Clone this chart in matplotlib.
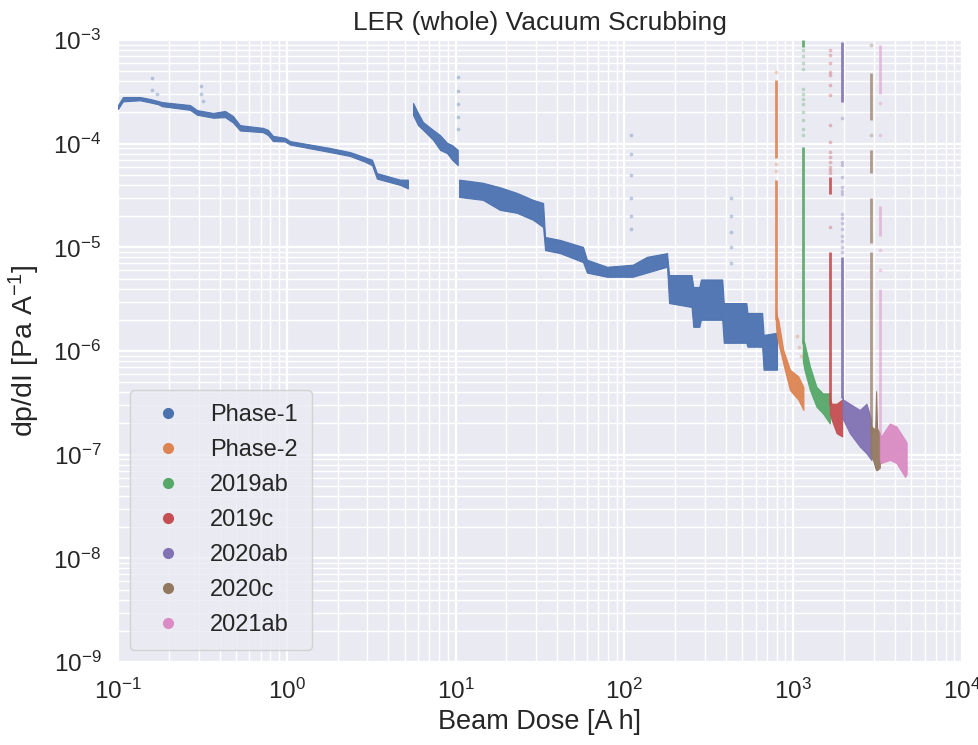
import numpy as np
import matplotlib
matplotlib.use("Agg")
import matplotlib.pyplot as plt
import seaborn as sns
from matplotlib.lines import Line2D

sns.set_theme(style="darkgrid")
plt.rcParams['font.family'] = ['Liberation Sans', 'DejaVu Sans']
plt.rcParams['mathtext.fontset'] = 'custom'
plt.rcParams['mathtext.rm'] = 'Liberation Sans'
plt.rcParams['mathtext.it'] = 'Liberation Sans:italic'
plt.rcParams['mathtext.bf'] = 'Liberation Sans:bold'

labels = ["Phase-1", "Phase-2", "2019ab", "2019c", "2020ab", "2020c", "2021ab"]

# ---- Phase-1 (three running periods), band upper/lower envelopes ----
p1a_x = [0.100, 0.107, 0.135, 0.155, 0.173, 0.182, 0.267, 0.294, 0.366, 0.431, 0.480,
         0.528, 0.723, 0.774, 0.828, 0.975, 1.045, 1.80, 2.37, 2.90, 3.20, 3.42, 4.69, 5.22]
p1a_hi = [2.36e-4, 2.82e-4, 2.82e-4, 2.70e-4, 2.58e-4, 2.52e-4, 2.36e-4, 2.11e-4, 1.98e-4,
          2.07e-4, 1.85e-4, 1.51e-4, 1.42e-4, 1.36e-4, 1.19e-4, 1.14e-4, 1.06e-4, 9.1e-5,
          8.3e-5, 7.4e-5, 7.0e-5, 5.2e-5, 4.5e-5, 4.5e-5]
p1a_lo = [2.16e-4, 2.56e-4, 2.62e-4, 2.50e-4, 2.40e-4, 2.30e-4, 2.12e-4, 1.90e-4, 1.78e-4,
          1.80e-4, 1.60e-4, 1.34e-4, 1.29e-4, 1.21e-4, 1.06e-4, 1.05e-4, 9.8e-5, 8.3e-5,
          7.6e-5, 6.7e-5, 6.2e-5, 4.6e-5, 4.0e-5, 3.7e-5]

p1b_x = [5.60, 5.99, 6.41, 7.35, 8.09, 8.90, 9.53, 10.3]
p1b_hi = [2.47e-4, 1.98e-4, 1.62e-4, 1.36e-4, 1.21e-4, 1.02e-4, 9.7e-5, 8.7e-5]
p1b_lo = [1.89e-4, 1.51e-4, 1.36e-4, 1.09e-4, 8.7e-5, 8.1e-5, 7.0e-5, 6.2e-5]

p1c_x = [10.5, 14.5, 18.3, 23.1, 28.8, 33.0, 33.9, 41.5, 56.9, 60.0, 78.9, 112, 136, 179,
         184, 250, 256, 278, 284, 380, 388, 528, 536, 655, 668, 802]
p1c_hi = [4.5e-5, 4.2e-5, 3.8e-5, 3.35e-5, 2.87e-5, 2.68e-5, 1.26e-5, 1.18e-5, 1.01e-5,
          7.6e-6, 6.5e-6, 6.8e-6, 8.1e-6, 8.8e-6, 5.4e-6, 5.4e-6, 4.15e-6, 4.15e-6, 4.9e-6,
          4.9e-6, 2.9e-6, 2.9e-6, 2.33e-6, 2.33e-6, 1.43e-6, 1.5e-6]
p1c_lo = [3.06e-5, 2.87e-5, 2.30e-5, 2.15e-5, 1.84e-5, 1.57e-5, 9.4e-6, 8.8e-6, 7.2e-6,
          5.7e-6, 5.2e-6, 5.2e-6, 5.7e-6, 6.5e-6, 2.9e-6, 2.66e-6, 1.71e-6, 1.71e-6, 2.0e-6,
          2.0e-6, 1.2e-6, 1.2e-6, 1.1e-6, 1.1e-6, 6.6e-7, 6.6e-7]

p1_pts_x = [0.16, 0.16, 0.17, 0.31, 0.31, 0.32, 10.3, 10.3, 10.3, 10.3, 10.3,
            110, 110, 110, 110, 110, 110, 430, 430, 430, 430, 430]
p1_pts_y = [4.3e-4, 3.3e-4, 3.0e-4, 3.6e-4, 3.0e-4, 2.6e-4, 4.4e-4, 3.2e-4, 2.4e-4, 1.8e-4,
            1.4e-4, 1.2e-4, 8e-5, 5e-5, 3e-5, 2e-5, 1.5e-5, 3e-5, 2e-5, 1.4e-5, 1e-5, 7e-6]

# ---- Phase-2 ----
p2_x = [790, 800, 817, 873, 957, 1072, 1150]
p2_hi = [2.5e-6, 2.2e-6, 2.0e-6, 1.03e-6, 6.6e-7, 5.7e-7, 4.5e-7]
p2_lo = [1.8e-6, 1.4e-6, 1.2e-6, 7.6e-7, 4.2e-7, 3.4e-7, 2.7e-7]
p2_spike = 790
p2_seg_lo = [7.3e-5, 2.0e-6]
p2_seg_hi = [4.1e-4, 4.5e-5]
p2_pts_x = [790, 790, 790, 1050, 1090, 1120, 1140]
p2_pts_y = [4.9e-4, 6.3e-5, 5.5e-5, 1.4e-6, 1.1e-6, 9e-7, 1.2e-6]

# ---- 2019ab ----
g_x = [1141, 1166, 1257, 1375, 1500, 1650]
g_hi = [1.3e-6, 1.19e-6, 7.1e-7, 4.5e-7, 3.9e-7, 3.9e-7]
g_lo = [8e-7, 6.6e-7, 4.2e-7, 2.9e-7, 2.5e-7, 2.0e-7]
g_spike = 1141
g_seg_lo = [8.6e-4, 1.2e-6]
g_seg_hi = [1.0e-3, 9.3e-5]
g_pts_y = [8e-4, 7e-4, 6e-4, 5.2e-4, 3.4e-4, 3e-4, 2.7e-4, 2.4e-4, 2e-4, 1.7e-4, 1.4e-4, 1.2e-4]

# ---- 2019c ----
r_x = [1650, 1690, 1810, 1950]
r_hi = [3.5e-7, 3.1e-7, 3.1e-7, 3.4e-7]
r_lo = [2.5e-7, 2.17e-7, 1.61e-7, 1.5e-7]
r_spike = 1650
r_seg_lo = [3.3e-5, 3.0e-7]
r_seg_hi = [4.8e-5, 9.0e-6]
r_pts_y = [8.0e-4, 7.2e-4, 6.0e-4, 4.9e-4, 4.6e-4, 3.7e-4, 2.95e-4, 1.51e-4, 1.04e-4,
           8.3e-5, 7.4e-5, 6.7e-5, 6.0e-5, 5.6e-5, 5.2e-5, 1.57e-5]

# ---- 2020ab ----
v_x = [1960, 1980, 2165, 2480, 2720, 2900]
v_hi = [3.6e-7, 3.4e-7, 3.1e-7, 2.7e-7, 3.1e-7, 2.17e-7]
v_lo = [2.4e-7, 2.17e-7, 1.61e-7, 1.2e-7, 1.03e-7, 8.9e-8]
v_spike = 1960
v_seg_lo = [2.5e-4, 3.5e-7]
v_seg_hi = [9.5e-4, 8.0e-6]
v_pts_y = [1.77e-4, 6.7e-5, 6.2e-5, 4.8e-5, 3.8e-5, 3.5e-5, 3.3e-5, 2.1e-5, 1.9e-5,
           1.7e-5, 1.5e-5, 1.3e-5, 1.15e-5, 1.0e-5, 9e-6]

# ---- 2020c ----
b_x = [2877, 2900, 3000, 3060, 3100, 3140, 3260]
b_hi = [1.9e-7, 1.87e-7, 1.8e-7, 1.7e-7, 4.1e-7, 1.8e-7, 1.6e-7]
b_lo = [1.1e-7, 9.6e-8, 8.5e-8, 7.5e-8, 7.1e-8, 7.1e-8, 7.5e-8]
b_spike = 2877
b_seg_lo = [1.7e-4, 5.2e-5, 1.1e-5, 1.6e-7]
b_seg_hi = [4.8e-4, 8.7e-5, 3.0e-5, 9.0e-6]
b_pts_y = [8.9e-4, 1.21e-4]

# ---- 2021ab ----
k_x = [3260, 3320, 3740, 4090, 4600, 4700]
k_hi = [1.6e-7, 1.5e-7, 2.0e-7, 1.87e-7, 1.39e-7, 1.3e-7]
k_lo = [9e-8, 8.3e-8, 8.9e-8, 8.3e-8, 6.1e-8, 6.5e-8]
k_spike = 3260
k_seg_lo = [3.0e-4, 1.3e-5, 1.6e-7]
k_seg_hi = [8.9e-4, 2.5e-5, 4.0e-6]
k_pts_y = [2.47e-4, 1.21e-4, 9.4e-6, 6e-6]

colors = sns.color_palette("deep", 7)

fig = plt.figure(figsize=(9.79, 7.45), dpi=100)
ax = fig.add_axes([0.1205, 0.1114, 0.8621, 0.8349])
ax.set_xscale('log')
ax.set_yscale('log')
ax.set_xlim(1e-1, 1e4)
ax.set_ylim(1e-9, 1e-3)
ax.grid(True, which='major', color='white', lw=1.6)
ax.grid(True, which='minor', color='white', lw=1.0)
ax.set_axisbelow(True)


def band(x, lo, hi, c):
    ax.fill_between(x, lo, hi, color=c, lw=0.8, edgecolor=c, alpha=0.95, zorder=3)


def spike(xs, lo, hi, c, a=0.9):
    ax.vlines([xs] * len(lo), lo, hi, color=c, lw=2.0, alpha=a, zorder=3)


def pts(x, y, c):
    ax.scatter(x, y, s=7, color=c, alpha=0.35, lw=0, zorder=3)


band(p1a_x, p1a_lo, p1a_hi, colors[0])
band(p1b_x, p1b_lo, p1b_hi, colors[0])
band(p1c_x, p1c_lo, p1c_hi, colors[0])
pts(p1_pts_x, p1_pts_y, colors[0])

band(p2_x, p2_lo, p2_hi, colors[1])
spike(p2_spike, p2_seg_lo, p2_seg_hi, colors[1])
pts(p2_pts_x, p2_pts_y, colors[1])

band(g_x, g_lo, g_hi, colors[2])
spike(g_spike, g_seg_lo, g_seg_hi, colors[2])
pts([g_spike] * len(g_pts_y), g_pts_y, colors[2])

band(r_x, r_lo, r_hi, colors[3])
spike(r_spike, r_seg_lo, r_seg_hi, colors[3])
pts([r_spike] * len(r_pts_y), r_pts_y, colors[3])

band(v_x, v_lo, v_hi, colors[4])
spike(v_spike, v_seg_lo, v_seg_hi, colors[4])
pts([v_spike] * len(v_pts_y), v_pts_y, colors[4])

band(b_x, b_lo, b_hi, colors[5])
spike(b_spike, b_seg_lo, b_seg_hi, colors[5], a=0.7)
pts([b_spike] * len(b_pts_y), b_pts_y, colors[5])

band(k_x, k_lo, k_hi, colors[6])
spike(k_spike, k_seg_lo, k_seg_hi, colors[6], a=0.5)
pts([k_spike] * len(k_pts_y), k_pts_y, colors[6])

ax.tick_params(axis='both', which='major', labelsize=17.5, pad=6)
ax.set_title("LER (whole) Vacuum Scrubbing", fontsize=19, pad=7)
ax.set_xlabel("Beam Dose [A h]", fontsize=19.5, labelpad=4)
ax.set_ylabel("dp/dI [Pa A$^{-1}$]", fontsize=20.5, labelpad=8)

handles = [Line2D([], [], marker='o', ls='', color=c, markersize=7) for c in colors]
ax.legend(handles, labels, loc='lower left', fontsize=17, handlelength=2.0,
          handletextpad=0.8, labelspacing=0.55, borderpad=0.6)

fig.savefig("out.png", dpi=100)
